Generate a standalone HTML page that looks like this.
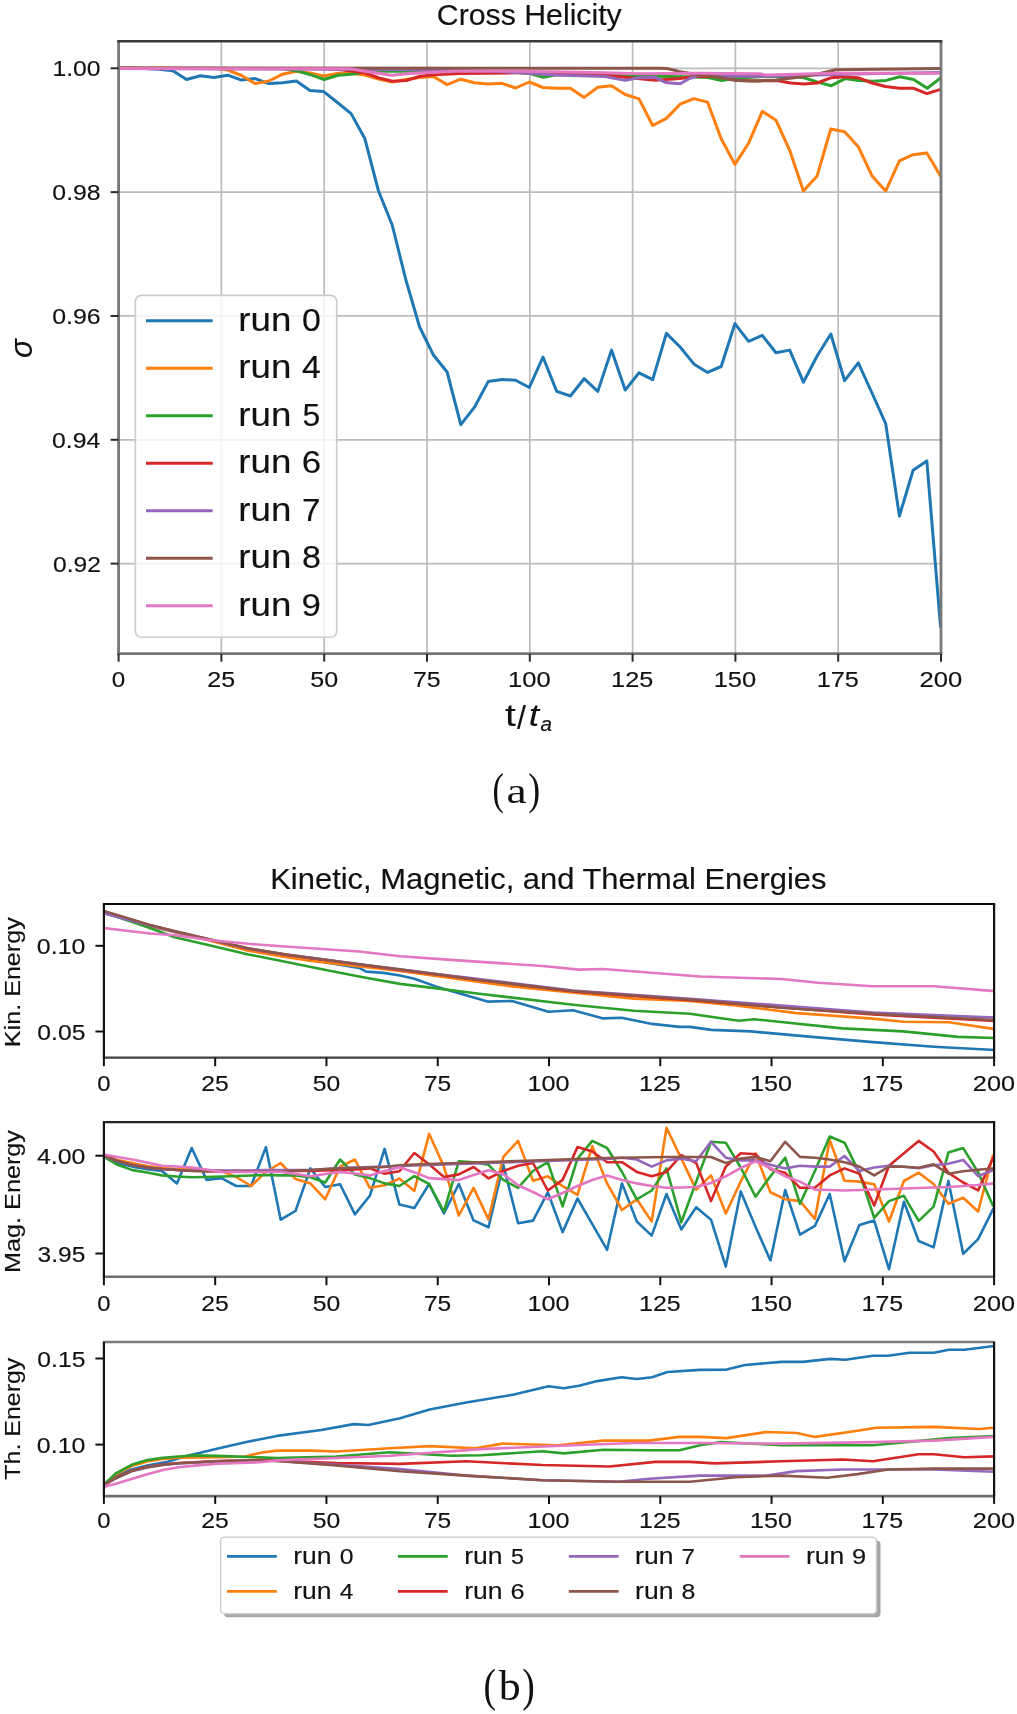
<!DOCTYPE html>
<html><head><meta charset="utf-8"><style>
html,body{margin:0;padding:0;background:#fff;}
body{width:1017px;height:1714px;overflow:hidden;font-family:"Liberation Sans", sans-serif;}
svg{display:block;will-change:transform;} .wrap{width:1017px;height:1714px;}
</style></head><body><div class="wrap">
<svg width="1017" height="1714" viewBox="0 0 1017 1714">
<defs><clipPath id="clipTop"><rect x="118.6" y="41.2" width="822.40" height="612.50"/></clipPath></defs>
<line x1="118.60" y1="41.2" x2="118.60" y2="653.7" stroke="#bcbcbc" stroke-width="1.7"/>
<line x1="221.40" y1="41.2" x2="221.40" y2="653.7" stroke="#bcbcbc" stroke-width="1.7"/>
<line x1="324.20" y1="41.2" x2="324.20" y2="653.7" stroke="#bcbcbc" stroke-width="1.7"/>
<line x1="427.00" y1="41.2" x2="427.00" y2="653.7" stroke="#bcbcbc" stroke-width="1.7"/>
<line x1="529.80" y1="41.2" x2="529.80" y2="653.7" stroke="#bcbcbc" stroke-width="1.7"/>
<line x1="632.60" y1="41.2" x2="632.60" y2="653.7" stroke="#bcbcbc" stroke-width="1.7"/>
<line x1="735.40" y1="41.2" x2="735.40" y2="653.7" stroke="#bcbcbc" stroke-width="1.7"/>
<line x1="838.20" y1="41.2" x2="838.20" y2="653.7" stroke="#bcbcbc" stroke-width="1.7"/>
<line x1="941.00" y1="41.2" x2="941.00" y2="653.7" stroke="#bcbcbc" stroke-width="1.7"/>
<line x1="118.6" y1="68.30" x2="941.0" y2="68.30" stroke="#bcbcbc" stroke-width="1.7"/>
<line x1="118.6" y1="192.13" x2="941.0" y2="192.13" stroke="#bcbcbc" stroke-width="1.7"/>
<line x1="118.6" y1="315.96" x2="941.0" y2="315.96" stroke="#bcbcbc" stroke-width="1.7"/>
<line x1="118.6" y1="439.79" x2="941.0" y2="439.79" stroke="#bcbcbc" stroke-width="1.7"/>
<line x1="118.6" y1="563.62" x2="941.0" y2="563.62" stroke="#bcbcbc" stroke-width="1.7"/>
<g clip-path="url(#clipTop)"><polyline points="118.1,68.3 131.8,68.3 145.5,68.4 159.2,69.3 172.9,70.8 186.6,79.5 200.3,75.7 214.0,77.5 227.8,75.2 241.5,80.1 255.2,78.6 268.9,83.6 282.6,82.7 296.3,81.0 310.0,90.4 323.7,91.6 337.4,102.5 351.1,113.6 364.8,138.5 378.5,191.0 392.2,225.0 405.9,280.0 419.6,327.0 433.4,355.0 447.1,372.0 460.8,424.7 474.5,407.2 488.2,381.6 501.9,379.6 515.6,380.2 529.3,387.5 543.0,357.0 556.7,391.4 570.4,396.0 584.1,378.7 597.8,391.4 611.5,350.1 625.2,390.1 639.0,372.8 652.7,379.6 666.4,333.4 680.1,347.0 693.8,363.9 707.5,372.4 721.2,366.5 734.9,323.6 748.6,341.3 762.3,335.4 776.0,352.7 789.7,350.1 803.4,382.2 817.1,356.0 830.8,334.0 844.6,380.7 858.3,362.9 872.0,393.0 885.7,423.6 899.4,516.0 913.1,470.2 926.8,460.9 940.5,626.1" fill="none" stroke="#1f77b4" stroke-width="3.0" stroke-linejoin="round" stroke-linecap="square"/>
<polyline points="118.1,68.3 131.8,68.3 145.5,68.3 159.2,68.3 172.9,68.3 186.6,68.3 200.3,68.3 214.0,68.3 227.8,70.0 241.5,75.5 255.2,83.6 268.9,81.0 282.6,74.2 296.3,71.2 310.0,73.0 323.7,75.9 337.4,73.5 351.1,73.2 364.8,75.0 378.5,79.0 392.2,82.0 405.9,79.5 419.6,77.5 433.4,76.5 447.1,84.6 460.8,79.2 474.5,82.8 488.2,83.9 501.9,83.3 515.6,88.0 529.3,82.0 543.0,87.5 556.7,88.3 570.4,88.3 584.1,97.4 597.8,87.3 611.5,85.7 625.2,94.5 639.0,98.9 652.7,125.5 666.4,118.4 680.1,104.2 693.8,98.6 707.5,102.1 721.2,138.8 734.9,164.4 748.6,143.2 762.3,111.3 776.0,120.2 789.7,150.3 803.4,191.0 817.1,175.9 830.8,129.0 844.6,131.7 858.3,146.7 872.0,175.9 885.7,191.0 899.4,160.9 913.1,154.7 926.8,152.9 940.5,175.9" fill="none" stroke="#ff7f0e" stroke-width="3.0" stroke-linejoin="round" stroke-linecap="square"/>
<polyline points="118.6,68.3 283.1,68.5 296.8,70.9 310.5,74.7 324.2,79.5 337.9,75.3 351.6,74.3 365.3,72.0 379.0,71.2 420.0,71.2 470.0,71.5 516.0,72.2 529.8,73.5 543.5,77.2 557.2,74.5 600.0,75.2 630.0,76.0 655.0,76.2 685.0,76.8 708.0,77.5 721.7,80.5 735.4,78.2 762.8,76.6 790.2,76.5 803.9,77.7 817.7,82.1 831.4,85.7 845.1,78.6 858.8,80.4 872.5,81.2 886.2,80.4 899.9,76.8 913.6,79.5 927.3,88.3 941.0,77.7" fill="none" stroke="#2ca02c" stroke-width="3.0" stroke-linejoin="round" stroke-linecap="square"/>
<polyline points="118.6,68.3 324.2,68.6 337.9,69.5 351.6,71.0 365.3,73.0 379.0,78.0 392.7,81.2 406.4,80.5 420.2,76.3 433.9,74.8 460.0,73.5 520.0,72.8 570.0,73.3 595.0,74.2 630.0,77.7 655.0,80.3 680.0,78.5 694.0,76.5 711.0,76.2 720.0,77.3 736.6,80.4 760.0,80.9 776.5,80.4 790.7,83.0 804.0,83.9 817.2,83.0 831.4,77.7 843.8,76.8 858.0,77.7 872.0,83.0 885.4,86.5 899.5,88.3 913.7,88.3 927.0,93.6 941.0,89.2" fill="none" stroke="#d62728" stroke-width="3.0" stroke-linejoin="round" stroke-linecap="square"/>
<polyline points="118.6,68.5 400.0,69.5 500.0,71.5 555.0,75.0 605.0,76.5 625.0,80.4 639.0,77.7 655.0,77.3 666.0,82.6 680.0,83.8 689.6,78.5 699.0,75.0 734.0,76.2 760.0,76.2 800.0,75.5 853.0,74.0 941.0,72.4" fill="none" stroke="#9467bd" stroke-width="3.0" stroke-linejoin="round" stroke-linecap="square"/>
<polyline points="118.6,68.0 660.0,68.3 667.0,68.5 679.0,71.4 699.0,75.0 716.7,76.8 734.4,80.3 752.0,80.9 776.0,80.0 800.0,77.0 818.0,74.0 836.0,69.7 941.0,68.6" fill="none" stroke="#8c564b" stroke-width="3.0" stroke-linejoin="round" stroke-linecap="square"/>
<polyline points="118.6,68.5 350.0,68.8 364.5,71.2 391.6,75.3 410.5,73.6 455.0,71.2 500.0,71.0 595.0,72.4 640.0,73.8 699.0,73.2 760.0,73.8 765.0,75.0 836.0,73.3 941.0,73.3" fill="none" stroke="#e377c2" stroke-width="3.0" stroke-linejoin="round" stroke-linecap="square"/>
</g>
<line x1="118.6" y1="41.2" x2="118.6" y2="653.7" stroke="#787878" stroke-width="2.8"/>
<line x1="941.0" y1="41.2" x2="941.0" y2="653.7" stroke="#787878" stroke-width="2.8"/>
<line x1="117.19999999999999" y1="653.7" x2="942.4" y2="653.7" stroke="#767676" stroke-width="2.8"/>
<line x1="117.19999999999999" y1="41.2" x2="942.4" y2="41.2" stroke="#3a3a3a" stroke-width="2.4"/>
<line x1="118.60" y1="653.7" x2="118.60" y2="661.7" stroke="#2a2a2a" stroke-width="2"/>
<text x="111.85" y="686.90" font-size="22.60" font-family="'Liberation Sans', sans-serif" fill="#111" stroke="#111" stroke-width="0.15" textLength="13.47" lengthAdjust="spacingAndGlyphs"  >0</text>
<line x1="221.40" y1="653.7" x2="221.40" y2="661.7" stroke="#2a2a2a" stroke-width="2"/>
<text x="207.38" y="686.90" font-size="22.60" font-family="'Liberation Sans', sans-serif" fill="#111" stroke="#111" stroke-width="0.15" textLength="27.85" lengthAdjust="spacingAndGlyphs"  >25</text>
<line x1="324.20" y1="653.7" x2="324.20" y2="661.7" stroke="#2a2a2a" stroke-width="2"/>
<text x="310.26" y="686.90" font-size="22.60" font-family="'Liberation Sans', sans-serif" fill="#111" stroke="#111" stroke-width="0.15" textLength="27.88" lengthAdjust="spacingAndGlyphs"  >50</text>
<line x1="427.00" y1="653.7" x2="427.00" y2="661.7" stroke="#2a2a2a" stroke-width="2"/>
<text x="413.04" y="686.90" font-size="22.60" font-family="'Liberation Sans', sans-serif" fill="#111" stroke="#111" stroke-width="0.15" textLength="27.66" lengthAdjust="spacingAndGlyphs"  >75</text>
<line x1="529.80" y1="653.7" x2="529.80" y2="661.7" stroke="#2a2a2a" stroke-width="2"/>
<text x="508.05" y="686.90" font-size="22.60" font-family="'Liberation Sans', sans-serif" fill="#111" stroke="#111" stroke-width="0.15" textLength="42.57" lengthAdjust="spacingAndGlyphs"  >100</text>
<line x1="632.60" y1="653.7" x2="632.60" y2="661.7" stroke="#2a2a2a" stroke-width="2"/>
<text x="611.10" y="686.90" font-size="22.60" font-family="'Liberation Sans', sans-serif" fill="#111" stroke="#111" stroke-width="0.15" textLength="42.15" lengthAdjust="spacingAndGlyphs"  >125</text>
<line x1="735.40" y1="653.7" x2="735.40" y2="661.7" stroke="#2a2a2a" stroke-width="2"/>
<text x="713.65" y="686.90" font-size="22.60" font-family="'Liberation Sans', sans-serif" fill="#111" stroke="#111" stroke-width="0.15" textLength="42.57" lengthAdjust="spacingAndGlyphs"  >150</text>
<line x1="838.20" y1="653.7" x2="838.20" y2="661.7" stroke="#2a2a2a" stroke-width="2"/>
<text x="816.70" y="686.90" font-size="22.60" font-family="'Liberation Sans', sans-serif" fill="#111" stroke="#111" stroke-width="0.15" textLength="42.15" lengthAdjust="spacingAndGlyphs"  >175</text>
<line x1="941.00" y1="653.7" x2="941.00" y2="661.7" stroke="#2a2a2a" stroke-width="2"/>
<text x="919.45" y="686.90" font-size="22.60" font-family="'Liberation Sans', sans-serif" fill="#111" stroke="#111" stroke-width="0.15" textLength="42.80" lengthAdjust="spacingAndGlyphs"  >200</text>
<line x1="110.6" y1="68.30" x2="118.6" y2="68.30" stroke="#2a2a2a" stroke-width="2"/>
<text x="52.44" y="76.40" font-size="22.60" font-family="'Liberation Sans', sans-serif" fill="#111" stroke="#111" stroke-width="0.15" textLength="48.12" lengthAdjust="spacingAndGlyphs"  >1.00</text>
<line x1="110.6" y1="192.13" x2="118.6" y2="192.13" stroke="#2a2a2a" stroke-width="2"/>
<text x="52.36" y="200.23" font-size="22.60" font-family="'Liberation Sans', sans-serif" fill="#111" stroke="#111" stroke-width="0.15" textLength="48.33" lengthAdjust="spacingAndGlyphs"  >0.98</text>
<line x1="110.6" y1="315.96" x2="118.6" y2="315.96" stroke="#2a2a2a" stroke-width="2"/>
<text x="52.25" y="324.06" font-size="22.60" font-family="'Liberation Sans', sans-serif" fill="#111" stroke="#111" stroke-width="0.15" textLength="48.44" lengthAdjust="spacingAndGlyphs"  >0.96</text>
<line x1="110.6" y1="439.79" x2="118.6" y2="439.79" stroke="#2a2a2a" stroke-width="2"/>
<text x="52.09" y="447.89" font-size="22.60" font-family="'Liberation Sans', sans-serif" fill="#111" stroke="#111" stroke-width="0.15" textLength="48.23" lengthAdjust="spacingAndGlyphs"  >0.94</text>
<line x1="110.6" y1="563.62" x2="118.6" y2="563.62" stroke="#2a2a2a" stroke-width="2"/>
<text x="53.09" y="571.72" font-size="22.60" font-family="'Liberation Sans', sans-serif" fill="#111" stroke="#111" stroke-width="0.15" textLength="47.77" lengthAdjust="spacingAndGlyphs"  >0.92</text>
<text x="436.79" y="24.80" font-size="29.90" font-family="'Liberation Sans', sans-serif" fill="#111" stroke="#111" stroke-width="0.15" textLength="184.97" lengthAdjust="spacingAndGlyphs"  >Cross Helicity</text>
<text x="504.91" y="725.86" font-size="31.72" font-family="'Liberation Sans', sans-serif" fill="#111" stroke="#111" stroke-width="0.1" textLength="10.90" lengthAdjust="spacingAndGlyphs"  >t</text>
<text x="517.00" y="729.07" font-size="33.47" font-family="'Liberation Sans', sans-serif" fill="#111" stroke="#111" stroke-width="0.1" textLength="8.91" lengthAdjust="spacingAndGlyphs"  >/</text>
<text x="528.82" y="725.78" font-size="31.60" font-family="'Liberation Sans', sans-serif" fill="#111" stroke="#111" stroke-width="0.1" textLength="10.39" lengthAdjust="spacingAndGlyphs" font-style="italic" >t</text>
<text x="540.54" y="730.89" font-size="20.82" font-family="'Liberation Sans', sans-serif" fill="#111" stroke="#111" stroke-width="0.2" textLength="11.46" lengthAdjust="spacingAndGlyphs" font-style="italic" >a</text>
<text x="-358.01" y="0.00" font-size="32.19" font-family="'Liberation Sans', sans-serif" fill="#111" stroke="#111" stroke-width="0.15" transform="translate(32.18,0) rotate(-90)" textLength="18.72" lengthAdjust="spacingAndGlyphs" font-style="italic" >σ</text>
<rect x="135.4" y="295.4" width="201.3" height="341.9" rx="6" fill="#fff" fill-opacity="0.8" stroke="#cccccc" stroke-width="1.6"/>
<line x1="146" y1="320.70" x2="212.7" y2="320.70" stroke="#1f77b4" stroke-width="3"/>
<text x="238.32" y="330.67" font-size="33.24" font-family="'Liberation Sans', sans-serif" fill="#111" stroke="#111" stroke-width="0.15" textLength="53.08" lengthAdjust="spacingAndGlyphs"  >run</text>
<text x="301.94" y="330.69" font-size="31.20" font-family="'Liberation Sans', sans-serif" fill="#111" stroke="#111" stroke-width="0.15" textLength="18.88" lengthAdjust="spacingAndGlyphs"  >0</text>
<line x1="146" y1="368.20" x2="212.7" y2="368.20" stroke="#ff7f0e" stroke-width="3"/>
<text x="238.32" y="378.17" font-size="33.24" font-family="'Liberation Sans', sans-serif" fill="#111" stroke="#111" stroke-width="0.15" textLength="53.08" lengthAdjust="spacingAndGlyphs"  >run</text>
<text x="302.06" y="378.19" font-size="31.20" font-family="'Liberation Sans', sans-serif" fill="#111" stroke="#111" stroke-width="0.15" textLength="18.74" lengthAdjust="spacingAndGlyphs"  >4</text>
<line x1="146" y1="415.70" x2="212.7" y2="415.70" stroke="#2ca02c" stroke-width="3"/>
<text x="238.32" y="425.67" font-size="33.24" font-family="'Liberation Sans', sans-serif" fill="#111" stroke="#111" stroke-width="0.15" textLength="53.08" lengthAdjust="spacingAndGlyphs"  >run</text>
<text x="302.44" y="425.69" font-size="31.20" font-family="'Liberation Sans', sans-serif" fill="#111" stroke="#111" stroke-width="0.15" textLength="17.74" lengthAdjust="spacingAndGlyphs"  >5</text>
<line x1="146" y1="463.20" x2="212.7" y2="463.20" stroke="#d62728" stroke-width="3"/>
<text x="238.32" y="473.17" font-size="33.24" font-family="'Liberation Sans', sans-serif" fill="#111" stroke="#111" stroke-width="0.15" textLength="53.08" lengthAdjust="spacingAndGlyphs"  >run</text>
<text x="301.72" y="473.19" font-size="31.20" font-family="'Liberation Sans', sans-serif" fill="#111" stroke="#111" stroke-width="0.15" textLength="19.38" lengthAdjust="spacingAndGlyphs"  >6</text>
<line x1="146" y1="510.70" x2="212.7" y2="510.70" stroke="#9467bd" stroke-width="3"/>
<text x="238.32" y="520.67" font-size="33.24" font-family="'Liberation Sans', sans-serif" fill="#111" stroke="#111" stroke-width="0.15" textLength="53.08" lengthAdjust="spacingAndGlyphs"  >run</text>
<text x="302.10" y="520.69" font-size="31.20" font-family="'Liberation Sans', sans-serif" fill="#111" stroke="#111" stroke-width="0.15" textLength="18.46" lengthAdjust="spacingAndGlyphs"  >7</text>
<line x1="146" y1="558.20" x2="212.7" y2="558.20" stroke="#8c564b" stroke-width="3"/>
<text x="238.32" y="568.17" font-size="33.24" font-family="'Liberation Sans', sans-serif" fill="#111" stroke="#111" stroke-width="0.15" textLength="53.08" lengthAdjust="spacingAndGlyphs"  >run</text>
<text x="301.94" y="568.19" font-size="31.20" font-family="'Liberation Sans', sans-serif" fill="#111" stroke="#111" stroke-width="0.15" textLength="18.99" lengthAdjust="spacingAndGlyphs"  >8</text>
<line x1="146" y1="605.70" x2="212.7" y2="605.70" stroke="#e377c2" stroke-width="3"/>
<text x="238.32" y="615.67" font-size="33.24" font-family="'Liberation Sans', sans-serif" fill="#111" stroke="#111" stroke-width="0.15" textLength="53.08" lengthAdjust="spacingAndGlyphs"  >run</text>
<text x="301.55" y="615.69" font-size="31.20" font-family="'Liberation Sans', sans-serif" fill="#111" stroke="#111" stroke-width="0.15" textLength="19.42" lengthAdjust="spacingAndGlyphs"  >9</text>
<text x="492.46" y="803.99" font-size="44.74" font-family="'Liberation Serif', serif" fill="#111" textLength="11.36" lengthAdjust="spacingAndGlyphs"  >(</text>
<text x="506.51" y="802.94" font-size="35.62" font-family="'Liberation Serif', serif" fill="#111" textLength="20.23" lengthAdjust="spacingAndGlyphs"  >a</text>
<text x="528.14" y="803.99" font-size="44.74" font-family="'Liberation Serif', serif" fill="#111" textLength="11.90" lengthAdjust="spacingAndGlyphs"  >)</text>
<defs><clipPath id="clipB0"><rect x="103.9" y="904.0" width="890.20" height="153.60"/></clipPath></defs>
<g clip-path="url(#clipB0)"><polyline points="104.0,913.0 150.0,926.0 174.6,932.0 211.5,940.5 248.3,949.5 285.2,955.5 322.1,961.8 359.0,967.9 366.3,971.6 383.5,972.9 400.0,975.5 414.4,978.8 435.7,986.4 487.5,1001.6 512.0,1001.0 548.5,1011.7 572.9,1010.2 603.3,1018.4 621.6,1017.8 652.1,1023.9 679.5,1026.9 690.0,1026.9 711.3,1029.9 751.0,1031.4 811.9,1036.9 872.9,1042.1 933.8,1046.7 994.0,1050.0" fill="none" stroke="#1f77b4" stroke-width="2.6" stroke-linejoin="round" stroke-linecap="square"/>
<polyline points="104.0,912.5 150.0,926.0 174.6,932.0 211.5,941.0 248.3,950.7 285.2,956.9 309.8,960.6 400.0,971.0 512.0,986.4 633.8,998.6 690.0,1001.0 735.7,1005.5 796.7,1013.1 872.9,1018.6 903.3,1021.7 949.0,1022.3 994.0,1029.0" fill="none" stroke="#ff7f0e" stroke-width="2.6" stroke-linejoin="round" stroke-linecap="square"/>
<polyline points="104.0,912.5 150.0,928.0 174.6,937.2 211.5,945.8 248.3,954.4 285.2,961.8 322.1,969.2 359.0,976.5 400.0,983.9 420.5,986.4 481.4,994.0 572.9,1004.7 633.8,1010.8 690.0,1013.8 738.8,1020.8 754.0,1019.2 842.4,1028.4 903.3,1031.4 958.2,1036.9 994.0,1038.0" fill="none" stroke="#2ca02c" stroke-width="2.6" stroke-linejoin="round" stroke-linecap="square"/>
<polyline points="104.0,912.0 150.0,925.3 174.6,931.4 211.5,940.0 248.3,948.7 285.2,954.8 400.0,970.0 572.9,991.5 700.0,1001.0 872.9,1014.5 994.0,1021.0" fill="none" stroke="#d62728" stroke-width="2.6" stroke-linejoin="round" stroke-linecap="square"/>
<polyline points="104.0,913.5 150.0,925.5 174.6,931.5 211.5,940.0 248.3,948.5 285.2,954.5 322.1,959.3 400.0,969.5 572.9,990.5 700.0,999.5 872.9,1012.5 994.0,1017.5" fill="none" stroke="#9467bd" stroke-width="2.6" stroke-linejoin="round" stroke-linecap="square"/>
<polyline points="104.0,911.0 150.0,924.9 174.6,931.1 211.5,939.7 248.3,948.3 285.2,954.4 322.1,959.3 359.0,964.2 400.0,969.2 481.4,980.3 572.9,991.0 633.8,995.5 700.0,1000.2 781.4,1007.7 872.9,1013.8 994.0,1020.0" fill="none" stroke="#8c564b" stroke-width="2.6" stroke-linejoin="round" stroke-linecap="square"/>
<polyline points="104.0,928.0 150.0,933.5 174.6,935.2 211.5,940.2 248.3,943.8 285.2,946.5 322.1,949.0 359.0,951.5 400.0,956.2 451.0,959.9 542.4,966.0 579.0,969.6 603.3,969.0 700.0,976.5 781.4,979.0 818.0,982.7 872.9,986.3 933.8,986.3 994.0,991.0" fill="none" stroke="#e377c2" stroke-width="2.6" stroke-linejoin="round" stroke-linecap="square"/>
</g>
<line x1="102.80000000000001" y1="904.0" x2="995.2" y2="904.0" stroke="#0c0c0c" stroke-width="2.2"/>
<line x1="102.80000000000001" y1="1057.6" x2="995.2" y2="1057.6" stroke="#404040" stroke-width="2.2"/>
<line x1="103.9" y1="904.0" x2="103.9" y2="1057.6" stroke="#111" stroke-width="2.2"/>
<line x1="994.1" y1="904.0" x2="994.1" y2="1057.6" stroke="#111" stroke-width="2.2"/>
<line x1="103.90" y1="1057.6" x2="103.90" y2="1066.1999999999998" stroke="#111" stroke-width="2"/>
<text x="97.24" y="1091.20" font-size="22.00" font-family="'Liberation Sans', sans-serif" fill="#111" stroke="#111" stroke-width="0.15" textLength="13.29" lengthAdjust="spacingAndGlyphs"  >0</text>
<line x1="215.18" y1="1057.6" x2="215.18" y2="1066.1999999999998" stroke="#111" stroke-width="2"/>
<text x="201.34" y="1091.20" font-size="22.00" font-family="'Liberation Sans', sans-serif" fill="#111" stroke="#111" stroke-width="0.15" textLength="27.48" lengthAdjust="spacingAndGlyphs"  >25</text>
<line x1="326.45" y1="1057.6" x2="326.45" y2="1066.1999999999998" stroke="#111" stroke-width="2"/>
<text x="312.69" y="1091.20" font-size="22.00" font-family="'Liberation Sans', sans-serif" fill="#111" stroke="#111" stroke-width="0.15" textLength="27.51" lengthAdjust="spacingAndGlyphs"  >50</text>
<line x1="437.73" y1="1057.6" x2="437.73" y2="1066.1999999999998" stroke="#111" stroke-width="2"/>
<text x="423.95" y="1091.20" font-size="22.00" font-family="'Liberation Sans', sans-serif" fill="#111" stroke="#111" stroke-width="0.15" textLength="27.30" lengthAdjust="spacingAndGlyphs"  >75</text>
<line x1="549.00" y1="1057.6" x2="549.00" y2="1066.1999999999998" stroke="#111" stroke-width="2"/>
<text x="527.53" y="1091.20" font-size="22.00" font-family="'Liberation Sans', sans-serif" fill="#111" stroke="#111" stroke-width="0.15" textLength="42.01" lengthAdjust="spacingAndGlyphs"  >100</text>
<line x1="660.27" y1="1057.6" x2="660.27" y2="1066.1999999999998" stroke="#111" stroke-width="2"/>
<text x="639.05" y="1091.20" font-size="22.00" font-family="'Liberation Sans', sans-serif" fill="#111" stroke="#111" stroke-width="0.15" textLength="41.59" lengthAdjust="spacingAndGlyphs"  >125</text>
<line x1="771.55" y1="1057.6" x2="771.55" y2="1066.1999999999998" stroke="#111" stroke-width="2"/>
<text x="750.08" y="1091.20" font-size="22.00" font-family="'Liberation Sans', sans-serif" fill="#111" stroke="#111" stroke-width="0.15" textLength="42.01" lengthAdjust="spacingAndGlyphs"  >150</text>
<line x1="882.82" y1="1057.6" x2="882.82" y2="1066.1999999999998" stroke="#111" stroke-width="2"/>
<text x="861.60" y="1091.20" font-size="22.00" font-family="'Liberation Sans', sans-serif" fill="#111" stroke="#111" stroke-width="0.15" textLength="41.59" lengthAdjust="spacingAndGlyphs"  >175</text>
<line x1="994.10" y1="1057.6" x2="994.10" y2="1066.1999999999998" stroke="#111" stroke-width="2"/>
<text x="972.83" y="1091.20" font-size="22.00" font-family="'Liberation Sans', sans-serif" fill="#111" stroke="#111" stroke-width="0.15" textLength="42.24" lengthAdjust="spacingAndGlyphs"  >200</text>
<line x1="95.4" y1="945.80" x2="103.9" y2="945.80" stroke="#111" stroke-width="2"/>
<text x="36.89" y="953.80" font-size="22.00" font-family="'Liberation Sans', sans-serif" fill="#111" stroke="#111" stroke-width="0.15" textLength="48.47" lengthAdjust="spacingAndGlyphs"  >0.10</text>
<line x1="95.4" y1="1031.50" x2="103.9" y2="1031.50" stroke="#111" stroke-width="2"/>
<text x="37.35" y="1039.50" font-size="22.00" font-family="'Liberation Sans', sans-serif" fill="#111" stroke="#111" stroke-width="0.15" textLength="48.07" lengthAdjust="spacingAndGlyphs"  >0.05</text>
<text x="-1047.17" y="0.00" font-size="22.70" font-family="'Liberation Sans', sans-serif" fill="#111" stroke="#111" stroke-width="0.15" transform="translate(20.2,0) rotate(-90)" textLength="129.93" lengthAdjust="spacingAndGlyphs"  >Kin. Energy</text>
<defs><clipPath id="clipB1"><rect x="103.9" y="1122.2" width="890.20" height="154.60"/></clipPath></defs>
<g clip-path="url(#clipB1)"><polyline points="102.7,1155.1 117.5,1163.0 132.4,1166.6 147.2,1169.2 162.0,1171.0 176.9,1183.4 191.7,1148.0 206.6,1179.9 221.4,1178.1 236.2,1186.0 251.1,1186.0 265.9,1147.1 280.7,1219.7 295.6,1210.8 310.4,1168.4 325.2,1187.0 340.1,1184.3 354.9,1214.4 369.8,1195.8 384.6,1148.9 399.4,1204.6 414.3,1208.1 429.1,1184.0 443.9,1213.5 458.8,1184.0 473.6,1220.4 488.5,1227.3 503.3,1164.8 518.1,1223.2 533.0,1220.6 547.8,1192.3 562.6,1232.1 577.5,1198.5 592.3,1224.1 607.1,1249.8 622.0,1183.4 636.8,1221.5 651.7,1235.6 666.5,1194.0 681.3,1229.4 696.2,1207.3 711.0,1219.7 725.8,1266.6 740.7,1191.4 755.5,1226.8 770.4,1260.4 785.2,1190.0 800.0,1234.7 814.9,1225.9 829.7,1194.0 844.5,1261.3 859.4,1225.0 874.2,1220.6 889.0,1269.2 903.9,1201.7 918.7,1241.0 933.6,1247.4 948.4,1181.0 963.2,1253.8 978.1,1239.1 992.9,1209.6" fill="none" stroke="#1f77b4" stroke-width="2.6" stroke-linejoin="round" stroke-linecap="square"/>
<polyline points="102.7,1155.0 117.5,1160.0 132.4,1163.0 147.2,1166.0 162.0,1168.0 176.9,1169.0 191.7,1168.0 206.6,1170.0 221.4,1171.0 236.2,1177.0 251.1,1186.0 265.9,1172.0 280.7,1163.0 295.6,1179.0 310.4,1183.4 325.2,1199.3 340.1,1166.6 354.9,1159.5 369.8,1187.8 384.6,1185.2 399.4,1178.6 414.3,1190.9 429.1,1133.8 443.9,1166.6 458.8,1215.5 473.6,1187.9 488.5,1219.4 503.3,1156.9 518.1,1140.9 533.0,1180.8 547.8,1176.3 562.6,1186.1 577.5,1194.9 592.3,1146.2 607.1,1183.4 622.0,1210.0 636.8,1199.3 651.7,1221.5 666.5,1127.7 681.3,1158.6 696.2,1189.6 711.0,1175.4 725.8,1213.5 740.7,1181.6 755.5,1153.3 770.4,1192.3 785.2,1199.3 800.0,1201.1 814.9,1218.8 829.7,1140.0 844.5,1180.8 859.4,1181.6 874.2,1184.3 889.0,1221.5 903.9,1181.0 918.7,1172.7 933.6,1184.0 948.4,1203.7 963.2,1197.8 978.1,1211.5 992.9,1155.5" fill="none" stroke="#ff7f0e" stroke-width="2.6" stroke-linejoin="round" stroke-linecap="square"/>
<polyline points="102.7,1156.0 117.5,1164.8 132.4,1170.1 147.2,1172.5 162.0,1175.4 176.9,1176.5 191.7,1177.2 206.6,1177.0 221.4,1176.5 236.2,1176.0 251.1,1175.5 265.9,1175.0 280.7,1175.4 295.6,1175.4 310.4,1177.2 325.2,1182.5 340.1,1159.5 354.9,1174.6 369.8,1178.1 384.6,1183.4 399.4,1186.0 414.3,1176.1 429.1,1184.0 443.9,1211.5 458.8,1161.4 473.6,1162.3 488.5,1164.8 503.3,1179.9 518.1,1187.8 533.0,1171.0 547.8,1162.2 562.6,1206.4 577.5,1158.6 592.3,1140.9 607.1,1148.0 622.0,1172.0 636.8,1199.3 651.7,1190.5 666.5,1168.4 681.3,1222.3 696.2,1181.6 711.0,1141.8 725.8,1142.7 740.7,1167.5 755.5,1196.7 770.4,1176.3 785.2,1157.7 800.0,1203.8 814.9,1171.0 829.7,1136.5 844.5,1142.7 859.4,1172.8 874.2,1217.9 889.0,1201.1 903.9,1195.8 918.7,1220.9 933.6,1206.6 948.4,1152.5 963.2,1148.1 978.1,1172.2 992.9,1205.6" fill="none" stroke="#2ca02c" stroke-width="2.6" stroke-linejoin="round" stroke-linecap="square"/>
<polyline points="102.7,1155.5 117.5,1161.0 132.4,1165.0 147.2,1167.5 162.0,1169.0 176.9,1170.0 191.7,1170.5 206.6,1171.0 221.4,1171.0 236.2,1171.0 251.1,1171.0 265.9,1171.0 280.7,1171.0 295.6,1171.0 310.4,1171.0 325.2,1170.5 340.1,1170.0 354.9,1169.5 369.8,1168.4 384.6,1173.7 399.4,1171.2 414.3,1153.0 429.1,1164.3 443.9,1177.1 458.8,1174.4 473.6,1167.0 488.5,1178.4 503.3,1171.0 518.1,1165.7 533.0,1163.0 547.8,1190.5 562.6,1179.9 577.5,1147.1 592.3,1151.5 607.1,1162.2 622.0,1162.2 636.8,1171.9 651.7,1176.3 666.5,1171.9 681.3,1155.1 696.2,1163.0 711.0,1201.1 725.8,1166.6 740.7,1153.3 755.5,1154.2 770.4,1169.2 785.2,1172.8 800.0,1187.8 814.9,1187.8 829.7,1175.4 844.5,1168.4 859.4,1173.7 874.2,1205.5 889.0,1165.7 903.9,1153.3 918.7,1140.9 933.6,1151.5 948.4,1172.8 963.2,1182.5 978.1,1190.4 992.9,1158.4" fill="none" stroke="#d62728" stroke-width="2.6" stroke-linejoin="round" stroke-linecap="square"/>
<polyline points="102.7,1155.5 117.5,1161.0 132.4,1165.0 147.2,1167.5 162.0,1169.0 176.9,1170.0 191.7,1170.5 206.6,1170.5 221.4,1170.5 236.2,1170.5 251.1,1170.5 265.9,1170.0 280.7,1170.0 295.6,1170.0 310.4,1170.0 325.2,1169.0 340.1,1168.0 354.9,1167.5 369.8,1167.0 384.6,1166.5 399.4,1166.0 414.3,1165.5 429.1,1165.0 443.9,1164.5 458.8,1164.0 473.6,1163.5 488.5,1163.0 503.3,1162.5 518.1,1162.0 533.0,1161.5 547.8,1161.0 562.6,1160.5 577.5,1160.0 592.3,1159.5 607.1,1159.0 622.0,1157.7 636.8,1159.5 651.7,1166.6 666.5,1160.4 681.3,1158.6 696.2,1161.3 711.0,1141.8 725.8,1157.7 740.7,1160.4 755.5,1160.4 770.4,1164.8 785.2,1168.4 800.0,1165.7 814.9,1166.6 829.7,1166.6 844.5,1156.0 859.4,1171.0 874.2,1167.5 889.0,1165.7 903.9,1166.8 918.7,1168.3 933.6,1165.3 948.4,1163.8 963.2,1159.9 978.1,1176.1 992.9,1170.2" fill="none" stroke="#9467bd" stroke-width="2.6" stroke-linejoin="round" stroke-linecap="square"/>
<polyline points="102.7,1155.0 117.5,1161.0 132.4,1165.0 147.2,1167.5 162.0,1169.0 176.9,1170.0 191.7,1171.0 206.6,1171.5 221.4,1171.5 236.2,1171.5 251.1,1171.5 265.9,1171.5 280.7,1171.5 295.6,1170.5 310.4,1170.0 325.2,1169.0 340.1,1168.5 354.9,1168.0 369.8,1167.5 384.6,1167.0 399.4,1165.3 414.3,1164.5 429.1,1164.0 443.9,1163.5 458.8,1163.0 473.6,1162.5 488.5,1162.0 503.3,1161.5 518.1,1161.0 533.0,1160.5 547.8,1160.0 562.6,1159.5 577.5,1159.0 592.3,1158.5 607.1,1158.0 622.0,1157.7 636.8,1157.5 651.7,1157.3 666.5,1157.0 681.3,1157.0 696.2,1157.0 711.0,1157.0 725.8,1163.0 740.7,1158.6 755.5,1156.9 770.4,1161.3 785.2,1141.8 800.0,1156.9 814.9,1157.7 829.7,1159.5 844.5,1162.2 859.4,1166.6 874.2,1175.4 889.0,1166.6 903.9,1166.8 918.7,1167.8 933.6,1164.3 948.4,1173.7 963.2,1171.2 978.1,1169.7 992.9,1168.3" fill="none" stroke="#8c564b" stroke-width="2.6" stroke-linejoin="round" stroke-linecap="square"/>
<polyline points="102.7,1154.2 117.5,1157.0 132.4,1159.5 147.2,1162.5 162.0,1165.7 176.9,1166.5 191.7,1167.5 206.6,1169.5 221.4,1171.9 236.2,1172.0 251.1,1172.0 265.9,1172.0 280.7,1171.9 295.6,1174.0 310.4,1176.3 325.2,1174.0 340.1,1171.9 354.9,1173.5 369.8,1175.4 384.6,1171.0 399.4,1167.3 414.3,1172.2 429.1,1178.1 443.9,1179.1 458.8,1180.1 473.6,1175.1 488.5,1170.2 503.3,1174.2 518.1,1185.2 533.0,1192.0 547.8,1199.3 562.6,1193.0 577.5,1186.0 592.3,1180.0 607.1,1175.4 622.0,1179.9 636.8,1183.4 651.7,1186.0 666.5,1187.8 681.3,1187.5 696.2,1187.0 711.0,1183.0 725.8,1176.3 740.7,1168.0 755.5,1161.3 770.4,1168.0 785.2,1176.3 800.0,1181.6 814.9,1189.6 829.7,1190.0 844.5,1190.5 859.4,1190.0 874.2,1189.5 889.0,1189.0 903.9,1188.5 918.7,1188.0 933.6,1187.5 948.4,1187.0 963.2,1186.0 978.1,1185.0 992.9,1183.5" fill="none" stroke="#e377c2" stroke-width="2.6" stroke-linejoin="round" stroke-linecap="square"/>
</g>
<line x1="102.80000000000001" y1="1122.2" x2="995.2" y2="1122.2" stroke="#222" stroke-width="2.2"/>
<line x1="102.80000000000001" y1="1276.8" x2="995.2" y2="1276.8" stroke="#6e6e6e" stroke-width="2.6"/>
<line x1="103.9" y1="1122.2" x2="103.9" y2="1276.8" stroke="#111" stroke-width="2.2"/>
<line x1="994.1" y1="1122.2" x2="994.1" y2="1276.8" stroke="#111" stroke-width="2.2"/>
<line x1="103.90" y1="1276.8" x2="103.90" y2="1285.2" stroke="#111" stroke-width="2"/>
<text x="97.24" y="1310.50" font-size="22.00" font-family="'Liberation Sans', sans-serif" fill="#111" stroke="#111" stroke-width="0.15" textLength="13.29" lengthAdjust="spacingAndGlyphs"  >0</text>
<line x1="215.18" y1="1276.8" x2="215.18" y2="1285.2" stroke="#111" stroke-width="2"/>
<text x="201.34" y="1310.50" font-size="22.00" font-family="'Liberation Sans', sans-serif" fill="#111" stroke="#111" stroke-width="0.15" textLength="27.48" lengthAdjust="spacingAndGlyphs"  >25</text>
<line x1="326.45" y1="1276.8" x2="326.45" y2="1285.2" stroke="#111" stroke-width="2"/>
<text x="312.69" y="1310.50" font-size="22.00" font-family="'Liberation Sans', sans-serif" fill="#111" stroke="#111" stroke-width="0.15" textLength="27.51" lengthAdjust="spacingAndGlyphs"  >50</text>
<line x1="437.73" y1="1276.8" x2="437.73" y2="1285.2" stroke="#111" stroke-width="2"/>
<text x="423.95" y="1310.50" font-size="22.00" font-family="'Liberation Sans', sans-serif" fill="#111" stroke="#111" stroke-width="0.15" textLength="27.30" lengthAdjust="spacingAndGlyphs"  >75</text>
<line x1="549.00" y1="1276.8" x2="549.00" y2="1285.2" stroke="#111" stroke-width="2"/>
<text x="527.53" y="1310.50" font-size="22.00" font-family="'Liberation Sans', sans-serif" fill="#111" stroke="#111" stroke-width="0.15" textLength="42.01" lengthAdjust="spacingAndGlyphs"  >100</text>
<line x1="660.27" y1="1276.8" x2="660.27" y2="1285.2" stroke="#111" stroke-width="2"/>
<text x="639.05" y="1310.50" font-size="22.00" font-family="'Liberation Sans', sans-serif" fill="#111" stroke="#111" stroke-width="0.15" textLength="41.59" lengthAdjust="spacingAndGlyphs"  >125</text>
<line x1="771.55" y1="1276.8" x2="771.55" y2="1285.2" stroke="#111" stroke-width="2"/>
<text x="750.08" y="1310.50" font-size="22.00" font-family="'Liberation Sans', sans-serif" fill="#111" stroke="#111" stroke-width="0.15" textLength="42.01" lengthAdjust="spacingAndGlyphs"  >150</text>
<line x1="882.82" y1="1276.8" x2="882.82" y2="1285.2" stroke="#111" stroke-width="2"/>
<text x="861.60" y="1310.50" font-size="22.00" font-family="'Liberation Sans', sans-serif" fill="#111" stroke="#111" stroke-width="0.15" textLength="41.59" lengthAdjust="spacingAndGlyphs"  >175</text>
<line x1="994.10" y1="1276.8" x2="994.10" y2="1285.2" stroke="#111" stroke-width="2"/>
<text x="972.83" y="1310.50" font-size="22.00" font-family="'Liberation Sans', sans-serif" fill="#111" stroke="#111" stroke-width="0.15" textLength="42.24" lengthAdjust="spacingAndGlyphs"  >200</text>
<line x1="95.4" y1="1155.70" x2="103.9" y2="1155.70" stroke="#111" stroke-width="2"/>
<text x="37.00" y="1163.70" font-size="22.00" font-family="'Liberation Sans', sans-serif" fill="#111" stroke="#111" stroke-width="0.15" textLength="48.37" lengthAdjust="spacingAndGlyphs"  >4.00</text>
<line x1="95.4" y1="1253.50" x2="103.9" y2="1253.50" stroke="#111" stroke-width="2"/>
<text x="37.64" y="1261.50" font-size="22.00" font-family="'Liberation Sans', sans-serif" fill="#111" stroke="#111" stroke-width="0.15" textLength="47.78" lengthAdjust="spacingAndGlyphs"  >3.95</text>
<text x="-1272.98" y="0.00" font-size="22.70" font-family="'Liberation Sans', sans-serif" fill="#111" stroke="#111" stroke-width="0.15" transform="translate(20.2,0) rotate(-90)" textLength="142.93" lengthAdjust="spacingAndGlyphs"  >Mag. Energy</text>
<defs><clipPath id="clipB2"><rect x="103.9" y="1342.0" width="890.20" height="154.10"/></clipPath></defs>
<g clip-path="url(#clipB2)"><polyline points="104.0,1485.0 115.7,1476.0 131.5,1469.5 147.2,1465.5 167.7,1461.7 188.5,1455.5 218.0,1448.5 247.5,1441.8 277.0,1435.9 321.2,1430.0 353.7,1424.1 368.4,1425.0 400.0,1418.2 429.6,1409.5 466.2,1402.5 511.9,1394.9 548.5,1386.3 563.7,1388.2 579.0,1385.7 597.3,1381.1 621.6,1377.2 636.9,1379.0 652.1,1377.2 667.4,1372.0 700.0,1369.9 726.6,1369.6 744.9,1365.0 781.4,1361.9 802.8,1361.9 830.2,1358.9 845.4,1359.8 872.9,1355.8 888.1,1355.8 909.4,1352.8 933.8,1352.8 949.0,1349.8 964.3,1349.8 994.0,1346.0" fill="none" stroke="#1f77b4" stroke-width="2.6" stroke-linejoin="round" stroke-linecap="square"/>
<polyline points="104.0,1484.5 115.7,1474.5 131.5,1466.0 147.2,1461.5 162.9,1459.0 178.7,1457.8 218.0,1457.2 245.0,1456.5 262.0,1452.5 277.0,1450.6 312.4,1450.6 336.0,1451.5 390.0,1448.2 429.6,1446.1 475.3,1448.2 502.8,1443.6 557.6,1445.2 603.3,1440.6 649.1,1440.6 679.5,1436.9 700.0,1436.9 726.6,1438.1 766.2,1432.0 796.7,1433.0 815.0,1436.9 857.6,1430.8 875.9,1427.8 933.8,1426.9 979.5,1429.0 994.0,1427.8" fill="none" stroke="#ff7f0e" stroke-width="2.6" stroke-linejoin="round" stroke-linecap="square"/>
<polyline points="104.0,1484.5 115.7,1473.5 131.5,1464.8 147.2,1460.1 162.9,1457.8 178.7,1456.5 194.4,1455.4 218.0,1455.9 260.0,1457.4 277.0,1458.0 336.0,1456.5 390.0,1452.2 451.0,1455.8 481.4,1455.2 542.4,1451.2 563.7,1453.4 603.3,1449.7 649.1,1450.3 679.5,1450.3 700.0,1445.2 720.5,1442.1 781.4,1445.2 872.9,1445.2 949.0,1438.1 994.0,1436.0" fill="none" stroke="#2ca02c" stroke-width="2.6" stroke-linejoin="round" stroke-linecap="square"/>
<polyline points="104.0,1485.0 115.7,1478.0 131.5,1470.8 147.2,1466.8 162.9,1464.5 178.7,1463.0 218.0,1461.0 260.0,1460.0 277.0,1460.5 336.0,1463.0 400.0,1463.9 466.2,1461.3 542.4,1465.0 609.4,1466.5 655.2,1461.9 690.0,1461.9 714.4,1463.4 781.4,1461.3 842.4,1459.5 872.9,1461.3 918.6,1454.3 933.8,1454.3 964.3,1457.3 994.0,1456.4" fill="none" stroke="#d62728" stroke-width="2.6" stroke-linejoin="round" stroke-linecap="square"/>
<polyline points="104.0,1485.0 115.7,1478.4 131.5,1471.3 147.2,1467.4 162.9,1465.0 178.7,1463.5 218.0,1461.4 260.0,1460.5 277.0,1461.0 336.0,1464.5 400.0,1469.0 466.2,1475.6 542.4,1480.2 618.6,1481.7 649.1,1478.7 700.0,1475.6 766.2,1475.6 796.7,1471.1 842.4,1469.5 933.8,1469.5 994.0,1471.7" fill="none" stroke="#9467bd" stroke-width="2.6" stroke-linejoin="round" stroke-linecap="square"/>
<polyline points="104.0,1485.0 115.7,1478.2 131.5,1471.1 147.2,1467.2 162.9,1464.8 178.7,1463.3 218.0,1461.2 260.0,1460.1 277.0,1461.0 336.0,1465.4 400.0,1471.3 466.2,1475.6 542.4,1480.2 618.6,1481.7 690.0,1481.7 735.7,1477.2 781.4,1475.6 827.2,1477.8 857.6,1474.1 888.1,1469.5 933.8,1468.6 994.0,1468.6" fill="none" stroke="#8c564b" stroke-width="2.6" stroke-linejoin="round" stroke-linecap="square"/>
<polyline points="104.0,1486.9 115.7,1483.7 131.5,1479.0 147.2,1474.3 162.9,1470.0 178.7,1467.2 194.4,1465.6 218.0,1463.7 260.0,1462.2 277.0,1460.4 336.0,1458.0 390.0,1455.8 481.4,1449.1 572.9,1445.2 633.8,1443.0 700.0,1443.0 781.4,1443.6 872.9,1442.1 933.8,1440.6 994.0,1436.9" fill="none" stroke="#e377c2" stroke-width="2.6" stroke-linejoin="round" stroke-linecap="square"/>
</g>
<line x1="102.80000000000001" y1="1342.0" x2="995.2" y2="1342.0" stroke="#7a7a7a" stroke-width="2.6"/>
<line x1="102.80000000000001" y1="1496.1" x2="995.2" y2="1496.1" stroke="#6e6e6e" stroke-width="2.6"/>
<line x1="103.9" y1="1342.0" x2="103.9" y2="1496.1" stroke="#111" stroke-width="2.2"/>
<line x1="994.1" y1="1342.0" x2="994.1" y2="1496.1" stroke="#111" stroke-width="2.2"/>
<line x1="103.90" y1="1496.1" x2="103.90" y2="1503.8999999999999" stroke="#111" stroke-width="2"/>
<text x="97.24" y="1527.80" font-size="22.00" font-family="'Liberation Sans', sans-serif" fill="#111" stroke="#111" stroke-width="0.15" textLength="13.29" lengthAdjust="spacingAndGlyphs"  >0</text>
<line x1="215.18" y1="1496.1" x2="215.18" y2="1503.8999999999999" stroke="#111" stroke-width="2"/>
<text x="201.34" y="1527.80" font-size="22.00" font-family="'Liberation Sans', sans-serif" fill="#111" stroke="#111" stroke-width="0.15" textLength="27.48" lengthAdjust="spacingAndGlyphs"  >25</text>
<line x1="326.45" y1="1496.1" x2="326.45" y2="1503.8999999999999" stroke="#111" stroke-width="2"/>
<text x="312.69" y="1527.80" font-size="22.00" font-family="'Liberation Sans', sans-serif" fill="#111" stroke="#111" stroke-width="0.15" textLength="27.51" lengthAdjust="spacingAndGlyphs"  >50</text>
<line x1="437.73" y1="1496.1" x2="437.73" y2="1503.8999999999999" stroke="#111" stroke-width="2"/>
<text x="423.95" y="1527.80" font-size="22.00" font-family="'Liberation Sans', sans-serif" fill="#111" stroke="#111" stroke-width="0.15" textLength="27.30" lengthAdjust="spacingAndGlyphs"  >75</text>
<line x1="549.00" y1="1496.1" x2="549.00" y2="1503.8999999999999" stroke="#111" stroke-width="2"/>
<text x="527.53" y="1527.80" font-size="22.00" font-family="'Liberation Sans', sans-serif" fill="#111" stroke="#111" stroke-width="0.15" textLength="42.01" lengthAdjust="spacingAndGlyphs"  >100</text>
<line x1="660.27" y1="1496.1" x2="660.27" y2="1503.8999999999999" stroke="#111" stroke-width="2"/>
<text x="639.05" y="1527.80" font-size="22.00" font-family="'Liberation Sans', sans-serif" fill="#111" stroke="#111" stroke-width="0.15" textLength="41.59" lengthAdjust="spacingAndGlyphs"  >125</text>
<line x1="771.55" y1="1496.1" x2="771.55" y2="1503.8999999999999" stroke="#111" stroke-width="2"/>
<text x="750.08" y="1527.80" font-size="22.00" font-family="'Liberation Sans', sans-serif" fill="#111" stroke="#111" stroke-width="0.15" textLength="42.01" lengthAdjust="spacingAndGlyphs"  >150</text>
<line x1="882.82" y1="1496.1" x2="882.82" y2="1503.8999999999999" stroke="#111" stroke-width="2"/>
<text x="861.60" y="1527.80" font-size="22.00" font-family="'Liberation Sans', sans-serif" fill="#111" stroke="#111" stroke-width="0.15" textLength="41.59" lengthAdjust="spacingAndGlyphs"  >175</text>
<line x1="994.10" y1="1496.1" x2="994.10" y2="1503.8999999999999" stroke="#111" stroke-width="2"/>
<text x="972.83" y="1527.80" font-size="22.00" font-family="'Liberation Sans', sans-serif" fill="#111" stroke="#111" stroke-width="0.15" textLength="42.24" lengthAdjust="spacingAndGlyphs"  >200</text>
<line x1="95.4" y1="1358.50" x2="103.9" y2="1358.50" stroke="#111" stroke-width="2"/>
<text x="37.35" y="1366.50" font-size="22.00" font-family="'Liberation Sans', sans-serif" fill="#111" stroke="#111" stroke-width="0.15" textLength="48.07" lengthAdjust="spacingAndGlyphs"  >0.15</text>
<line x1="95.4" y1="1444.60" x2="103.9" y2="1444.60" stroke="#111" stroke-width="2"/>
<text x="36.89" y="1452.60" font-size="22.00" font-family="'Liberation Sans', sans-serif" fill="#111" stroke="#111" stroke-width="0.15" textLength="48.47" lengthAdjust="spacingAndGlyphs"  >0.10</text>
<text x="-1479.76" y="0.00" font-size="22.70" font-family="'Liberation Sans', sans-serif" fill="#111" stroke="#111" stroke-width="0.15" transform="translate(20.2,0) rotate(-90)" textLength="122.09" lengthAdjust="spacingAndGlyphs"  >Th. Energy</text>
<text x="270.25" y="889.30" font-size="29.90" font-family="'Liberation Sans', sans-serif" fill="#111" stroke="#111" stroke-width="0.15" textLength="556.20" lengthAdjust="spacingAndGlyphs"  >Kinetic, Magnetic, and Thermal Energies</text>
<rect x="224" y="1540.6" width="656.5" height="76.7" rx="4" fill="#a6a6a6"/>
<rect x="220.6" y="1537.1" width="655.9" height="76.7" rx="4" fill="#fff" stroke="#cccccc" stroke-width="1.4"/>
<line x1="227.00" y1="1556.40" x2="276.80" y2="1556.40" stroke="#1f77b4" stroke-width="2.6"/>
<text x="293.31" y="1564.07" font-size="23.20" font-family="'Liberation Sans', sans-serif" fill="#111" stroke="#111" stroke-width="0.15" textLength="38.32" lengthAdjust="spacingAndGlyphs"  >run</text>
<text x="339.71" y="1564.08" font-size="22.30" font-family="'Liberation Sans', sans-serif" fill="#111" stroke="#111" stroke-width="0.15" textLength="13.76" lengthAdjust="spacingAndGlyphs"  >0</text>
<line x1="227.00" y1="1591.40" x2="276.80" y2="1591.40" stroke="#ff7f0e" stroke-width="2.6"/>
<text x="293.31" y="1599.07" font-size="23.20" font-family="'Liberation Sans', sans-serif" fill="#111" stroke="#111" stroke-width="0.15" textLength="38.32" lengthAdjust="spacingAndGlyphs"  >run</text>
<text x="339.80" y="1599.08" font-size="22.30" font-family="'Liberation Sans', sans-serif" fill="#111" stroke="#111" stroke-width="0.15" textLength="13.66" lengthAdjust="spacingAndGlyphs"  >4</text>
<line x1="397.90" y1="1556.40" x2="447.70" y2="1556.40" stroke="#2ca02c" stroke-width="2.6"/>
<text x="464.21" y="1564.07" font-size="23.20" font-family="'Liberation Sans', sans-serif" fill="#111" stroke="#111" stroke-width="0.15" textLength="38.32" lengthAdjust="spacingAndGlyphs"  >run</text>
<text x="510.97" y="1564.08" font-size="22.30" font-family="'Liberation Sans', sans-serif" fill="#111" stroke="#111" stroke-width="0.15" textLength="12.93" lengthAdjust="spacingAndGlyphs"  >5</text>
<line x1="397.90" y1="1591.40" x2="447.70" y2="1591.40" stroke="#d62728" stroke-width="2.6"/>
<text x="464.21" y="1599.07" font-size="23.20" font-family="'Liberation Sans', sans-serif" fill="#111" stroke="#111" stroke-width="0.15" textLength="38.32" lengthAdjust="spacingAndGlyphs"  >run</text>
<text x="510.45" y="1599.08" font-size="22.30" font-family="'Liberation Sans', sans-serif" fill="#111" stroke="#111" stroke-width="0.15" textLength="14.13" lengthAdjust="spacingAndGlyphs"  >6</text>
<line x1="568.80" y1="1556.40" x2="618.60" y2="1556.40" stroke="#9467bd" stroke-width="2.6"/>
<text x="635.11" y="1564.07" font-size="23.20" font-family="'Liberation Sans', sans-serif" fill="#111" stroke="#111" stroke-width="0.15" textLength="38.32" lengthAdjust="spacingAndGlyphs"  >run</text>
<text x="681.63" y="1564.08" font-size="22.30" font-family="'Liberation Sans', sans-serif" fill="#111" stroke="#111" stroke-width="0.15" textLength="13.46" lengthAdjust="spacingAndGlyphs"  >7</text>
<line x1="568.80" y1="1591.40" x2="618.60" y2="1591.40" stroke="#8c564b" stroke-width="2.6"/>
<text x="635.11" y="1599.07" font-size="23.20" font-family="'Liberation Sans', sans-serif" fill="#111" stroke="#111" stroke-width="0.15" textLength="38.32" lengthAdjust="spacingAndGlyphs"  >run</text>
<text x="681.51" y="1599.08" font-size="22.30" font-family="'Liberation Sans', sans-serif" fill="#111" stroke="#111" stroke-width="0.15" textLength="13.85" lengthAdjust="spacingAndGlyphs"  >8</text>
<line x1="739.70" y1="1556.40" x2="789.50" y2="1556.40" stroke="#e377c2" stroke-width="2.6"/>
<text x="806.01" y="1564.07" font-size="23.20" font-family="'Liberation Sans', sans-serif" fill="#111" stroke="#111" stroke-width="0.15" textLength="38.32" lengthAdjust="spacingAndGlyphs"  >run</text>
<text x="852.12" y="1564.08" font-size="22.30" font-family="'Liberation Sans', sans-serif" fill="#111" stroke="#111" stroke-width="0.15" textLength="14.15" lengthAdjust="spacingAndGlyphs"  >9</text>
<text x="483.41" y="1701.28" font-size="45.73" font-family="'Liberation Serif', serif" fill="#111" textLength="12.54" lengthAdjust="spacingAndGlyphs"  >(</text>
<text x="498.80" y="1700.29" font-size="41.13" font-family="'Liberation Serif', serif" fill="#111" textLength="21.95" lengthAdjust="spacingAndGlyphs"  >b</text>
<text x="522.28" y="1701.28" font-size="45.73" font-family="'Liberation Serif', serif" fill="#111" textLength="12.54" lengthAdjust="spacingAndGlyphs"  >)</text>
</svg></div>
</body></html>
